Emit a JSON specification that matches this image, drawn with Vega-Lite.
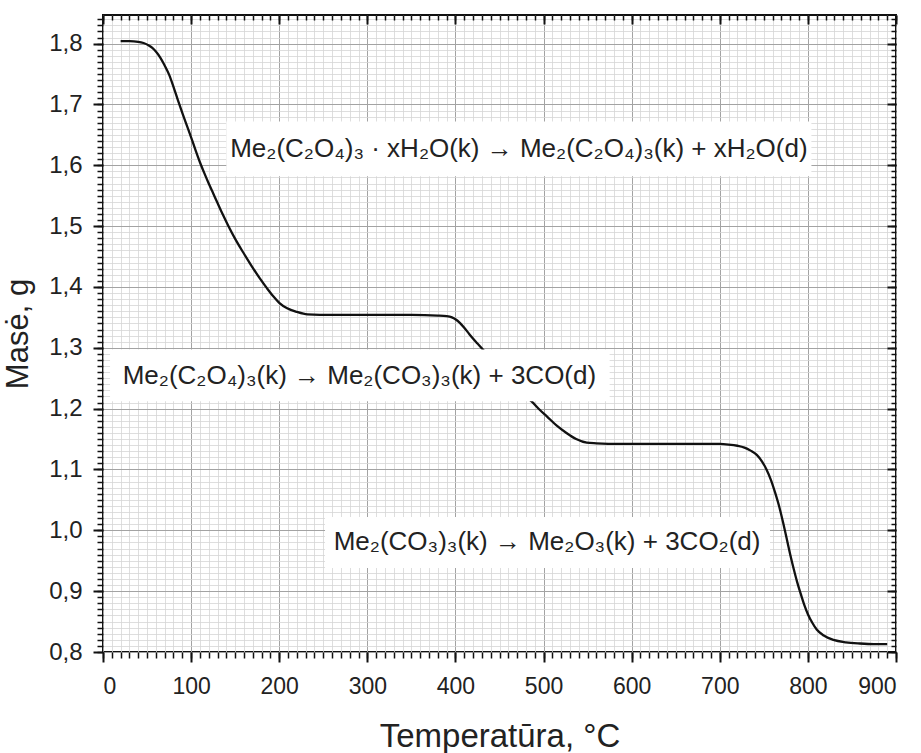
{
  "$schema": "https://vega.github.io/schema/vega-lite/v6.json",
  "width": 793,
  "height": 637,
  "autosize": {"type": "none"},
  "padding": {"left": 103, "top": 15, "right": 25, "bottom": 101},
  "background": "white",
  "config": {"view": {"stroke": "#111", "strokeWidth": 2}, "font": "Liberation Sans"},
  "datasets": {
    "curve": [
      {"t": 20, "m": 1.804}, {"t": 30, "m": 1.804}, {"t": 40, "m": 1.803}, {"t": 46, "m": 1.801},
      {"t": 52, "m": 1.797}, {"t": 56, "m": 1.793}, {"t": 60, "m": 1.787}, {"t": 65, "m": 1.777},
      {"t": 70, "m": 1.764}, {"t": 75, "m": 1.749}, {"t": 80, "m": 1.729}, {"t": 85, "m": 1.707},
      {"t": 90, "m": 1.686}, {"t": 95, "m": 1.666}, {"t": 100, "m": 1.646}, {"t": 105, "m": 1.625},
      {"t": 110, "m": 1.605}, {"t": 115, "m": 1.587}, {"t": 120, "m": 1.570}, {"t": 125, "m": 1.554},
      {"t": 130, "m": 1.538}, {"t": 136, "m": 1.519}, {"t": 142, "m": 1.501}, {"t": 150, "m": 1.479},
      {"t": 159, "m": 1.457}, {"t": 168, "m": 1.436}, {"t": 178, "m": 1.414}, {"t": 186, "m": 1.398},
      {"t": 193, "m": 1.385}, {"t": 200, "m": 1.374}, {"t": 209, "m": 1.365}, {"t": 220, "m": 1.359},
      {"t": 232, "m": 1.355}, {"t": 260, "m": 1.354}, {"t": 300, "m": 1.354}, {"t": 350, "m": 1.354},
      {"t": 380, "m": 1.353}, {"t": 390, "m": 1.352}, {"t": 396, "m": 1.350}, {"t": 400, "m": 1.347},
      {"t": 405, "m": 1.341}, {"t": 410, "m": 1.333}, {"t": 416, "m": 1.322}, {"t": 425, "m": 1.307},
      {"t": 435, "m": 1.291}, {"t": 445, "m": 1.275}, {"t": 455, "m": 1.258}, {"t": 465, "m": 1.242},
      {"t": 475, "m": 1.226}, {"t": 487, "m": 1.211}, {"t": 495, "m": 1.199}, {"t": 504, "m": 1.187},
      {"t": 515, "m": 1.172}, {"t": 526, "m": 1.160}, {"t": 537, "m": 1.150}, {"t": 549, "m": 1.144},
      {"t": 560, "m": 1.143}, {"t": 587, "m": 1.142}, {"t": 620, "m": 1.142}, {"t": 660, "m": 1.142},
      {"t": 700, "m": 1.142}, {"t": 710, "m": 1.141}, {"t": 720, "m": 1.139}, {"t": 728, "m": 1.136},
      {"t": 735, "m": 1.131}, {"t": 742, "m": 1.124}, {"t": 748, "m": 1.113}, {"t": 753, "m": 1.100},
      {"t": 758, "m": 1.083}, {"t": 763, "m": 1.061}, {"t": 768, "m": 1.036}, {"t": 772, "m": 1.012},
      {"t": 776, "m": 0.986}, {"t": 780, "m": 0.960}, {"t": 784, "m": 0.936}, {"t": 788, "m": 0.914},
      {"t": 792, "m": 0.895}, {"t": 796, "m": 0.877}, {"t": 800, "m": 0.862}, {"t": 805, "m": 0.848},
      {"t": 810, "m": 0.837}, {"t": 818, "m": 0.827}, {"t": 829, "m": 0.820}, {"t": 843, "m": 0.816},
      {"t": 859, "m": 0.814}, {"t": 875, "m": 0.813}, {"t": 890, "m": 0.813}
    ],
    "notes": [
      {"x1": 140, "x2": 804, "y1": 1.672, "y2": 1.582, "xc": 472, "yc": 1.626, "label": "Me₂(C₂O₄)₃ · xH₂O(k) → Me₂(C₂O₄)₃(k) + xH₂O(d)"},
      {"x1": 8, "x2": 575, "y1": 1.297, "y2": 1.212, "xc": 291, "yc": 1.254, "label": "Me₂(C₂O₄)₃(k) → Me₂(CO₃)₃(k) + 3CO(d)"},
      {"x1": 252, "x2": 757, "y1": 1.022, "y2": 0.938, "xc": 504, "yc": 0.981, "label": "Me₂(CO₃)₃(k) → Me₂O₃(k) + 3CO₂(d)"}
    ]
  },
  "resolve": {"axis": {"x": "independent", "y": "independent"}},
  "layer": [
    {
      "data": {"name": "curve"},
      "mark": {"type": "line", "opacity": 0},
      "encoding": {
        "x": {"field": "t", "type": "quantitative",
          "scale": {"domain": [0, 900], "nice": false, "zero": false},
          "axis": {"orient": "bottom", "title": null, "labels": false, "domain": false, "ticks": false,
            "values": [0,10,20,30,40,50,60,70,80,90,100,110,120,130,140,150,160,170,180,190,200,210,220,230,240,250,260,270,280,290,300,310,320,330,340,350,360,370,380,390,400,410,420,430,440,450,460,470,480,490,500,510,520,530,540,550,560,570,580,590,600,610,620,630,640,650,660,670,680,690,700,710,720,730,740,750,760,770,780,790,800,810,820,830,840,850,860,870,880,890,900],
            "grid": true, "gridColor": "#d6d6d6", "gridWidth": 0.8}},
        "y": {"field": "m", "type": "quantitative",
          "scale": {"domain": [0.8, 1.847], "nice": false, "zero": false},
          "axis": {"orient": "left", "title": null, "labels": false, "domain": false, "ticks": false,
            "values": [0.8,0.81,0.82,0.83,0.84,0.85,0.86,0.87,0.88,0.89,0.9,0.91,0.92,0.93,0.94,0.95,0.96,0.97,0.98,0.99,1.0,1.01,1.02,1.03,1.04,1.05,1.06,1.07,1.08,1.09,1.1,1.11,1.12,1.13,1.14,1.15,1.16,1.17,1.18,1.19,1.2,1.21,1.22,1.23,1.24,1.25,1.26,1.27,1.28,1.29,1.3,1.31,1.32,1.33,1.34,1.35,1.36,1.37,1.38,1.39,1.4,1.41,1.42,1.43,1.44,1.45,1.46,1.47,1.48,1.49,1.5,1.51,1.52,1.53,1.54,1.55,1.56,1.57,1.58,1.59,1.6,1.61,1.62,1.63,1.64,1.65,1.66,1.67,1.68,1.69,1.7,1.71,1.72,1.73,1.74,1.75,1.76,1.77,1.78,1.79,1.8,1.81,1.82,1.83,1.84],
            "grid": true, "gridColor": "#d6d6d6", "gridWidth": 0.8}}
      }
    },
    {
      "data": {"name": "curve"},
      "mark": {"type": "line", "opacity": 0},
      "encoding": {
        "x": {"field": "t", "type": "quantitative",
          "axis": {"orient": "bottom", "title": null, "labels": false, "domain": false, "ticks": true, "grid": false,
            "values": [0,10,20,30,40,50,60,70,80,90,100,110,120,130,140,150,160,170,180,190,200,210,220,230,240,250,260,270,280,290,300,310,320,330,340,350,360,370,380,390,400,410,420,430,440,450,460,470,480,490,500,510,520,530,540,550,560,570,580,590,600,610,620,630,640,650,660,670,680,690,700,710,720,730,740,750,760,770,780,790,800,810,820,830,840,850,860,870,880,890,900],
            "tickSize": 6, "tickColor": "#111", "tickWidth": 1.5}},
        "y": {"field": "m", "type": "quantitative",
          "axis": {"orient": "left", "title": null, "labels": false, "domain": false, "ticks": true, "grid": false,
            "values": [0.8,0.81,0.82,0.83,0.84,0.85,0.86,0.87,0.88,0.89,0.9,0.91,0.92,0.93,0.94,0.95,0.96,0.97,0.98,0.99,1.0,1.01,1.02,1.03,1.04,1.05,1.06,1.07,1.08,1.09,1.1,1.11,1.12,1.13,1.14,1.15,1.16,1.17,1.18,1.19,1.2,1.21,1.22,1.23,1.24,1.25,1.26,1.27,1.28,1.29,1.3,1.31,1.32,1.33,1.34,1.35,1.36,1.37,1.38,1.39,1.4,1.41,1.42,1.43,1.44,1.45,1.46,1.47,1.48,1.49,1.5,1.51,1.52,1.53,1.54,1.55,1.56,1.57,1.58,1.59,1.6,1.61,1.62,1.63,1.64,1.65,1.66,1.67,1.68,1.69,1.7,1.71,1.72,1.73,1.74,1.75,1.76,1.77,1.78,1.79,1.8,1.81,1.82,1.83,1.84],
            "tickSize": 6, "tickColor": "#111", "tickWidth": 1.5}}
      }
    },
    {
      "data": {"name": "curve"},
      "mark": {"type": "line", "opacity": 0},
      "encoding": {
        "x": {"field": "t", "type": "quantitative",
          "axis": {"orient": "top", "title": null, "labels": false, "domain": false, "ticks": true, "grid": false, "offset": -5,
            "values": [0,10,20,30,40,50,60,70,80,90,100,110,120,130,140,150,160,170,180,190,200,210,220,230,240,250,260,270,280,290,300,310,320,330,340,350,360,370,380,390,400,410,420,430,440,450,460,470,480,490,500,510,520,530,540,550,560,570,580,590,600,610,620,630,640,650,660,670,680,690,700,710,720,730,740,750,760,770,780,790,800,810,820,830,840,850,860,870,880,890,900],
            "tickSize": 5, "tickColor": "#111", "tickWidth": 1.5}},
        "y": {"field": "m", "type": "quantitative",
          "axis": {"orient": "right", "title": null, "labels": false, "domain": false, "ticks": true, "grid": false, "offset": -5,
            "values": [0.8,0.81,0.82,0.83,0.84,0.85,0.86,0.87,0.88,0.89,0.9,0.91,0.92,0.93,0.94,0.95,0.96,0.97,0.98,0.99,1.0,1.01,1.02,1.03,1.04,1.05,1.06,1.07,1.08,1.09,1.1,1.11,1.12,1.13,1.14,1.15,1.16,1.17,1.18,1.19,1.2,1.21,1.22,1.23,1.24,1.25,1.26,1.27,1.28,1.29,1.3,1.31,1.32,1.33,1.34,1.35,1.36,1.37,1.38,1.39,1.4,1.41,1.42,1.43,1.44,1.45,1.46,1.47,1.48,1.49,1.5,1.51,1.52,1.53,1.54,1.55,1.56,1.57,1.58,1.59,1.6,1.61,1.62,1.63,1.64,1.65,1.66,1.67,1.68,1.69,1.7,1.71,1.72,1.73,1.74,1.75,1.76,1.77,1.78,1.79,1.8,1.81,1.82,1.83,1.84],
            "tickSize": 5, "tickColor": "#111", "tickWidth": 1.5}}
      }
    },
    {
      "data": {"name": "curve"},
      "mark": {"type": "line", "opacity": 0},
      "encoding": {
        "x": {"field": "t", "type": "quantitative",
          "axis": {"orient": "top", "title": null, "labels": false, "domain": false, "ticks": true, "grid": false, "offset": -9,
            "values": [0,100,200,300,400,500,600,700,800,900],
            "tickSize": 9, "tickColor": "#111", "tickWidth": 2}},
        "y": {"field": "m", "type": "quantitative",
          "axis": {"orient": "right", "title": null, "labels": false, "domain": false, "ticks": true, "grid": false, "offset": -9,
            "values": [0.8,0.9,1.0,1.1,1.2,1.3,1.4,1.5,1.6,1.7,1.8],
            "tickSize": 9, "tickColor": "#111", "tickWidth": 2}}
      }
    },
    {
      "data": {"name": "curve"},
      "mark": {"type": "line", "opacity": 0},
      "encoding": {
        "x": {"field": "t", "type": "quantitative",
          "axis": {"orient": "bottom", "title": "Temperatūra, °C", "ticks": true, "domain": false,
            "values": [0,100,200,300,400,500,600,700,800,900],
            "tickSize": 10, "tickColor": "#111", "tickWidth": 2,
            "grid": true, "gridColor": "#a3a3a3", "gridWidth": 1,
            "labelFont": "Liberation Sans", "labelFontSize": 23, "labelColor": "#222", "labelPadding": 13,
            "titleFont": "Liberation Sans", "titleFontSize": 33, "titleFontWeight": "normal", "titleColor": "#222",
            "titleY": 94, "titleBaseline": "alphabetic"}},
        "y": {"field": "m", "type": "quantitative",
          "axis": {"orient": "left", "title": "Masė, g", "ticks": true, "domain": false,
            "values": [0.8,0.9,1.0,1.1,1.2,1.3,1.4,1.5,1.6,1.7,1.8],
            "labelExpr": "replace(format(datum.value, '.1f'), '.', ',')",
            "tickSize": 10, "tickColor": "#111", "tickWidth": 2,
            "grid": true, "gridColor": "#a3a3a3", "gridWidth": 1,
            "labelFont": "Liberation Sans", "labelFontSize": 24, "labelColor": "#222", "labelPadding": 11,
            "titleFont": "Liberation Sans", "titleFontSize": 31, "titleFontWeight": "normal", "titleColor": "#222",
            "titleX": -76, "titleBaseline": "alphabetic"}}
      }
    },
    {
      "data": {"name": "curve"},
      "mark": {"type": "line", "color": "#111", "strokeWidth": 2.3, "interpolate": "monotone"},
      "encoding": {
        "x": {"field": "t", "type": "quantitative", "axis": null},
        "y": {"field": "m", "type": "quantitative", "axis": null}
      }
    },
    {
      "data": {"name": "notes"},
      "mark": {"type": "rect", "fill": "white"},
      "encoding": {
        "x": {"field": "x1", "type": "quantitative", "axis": null},
        "x2": {"field": "x2"},
        "y": {"field": "y1", "type": "quantitative", "axis": null},
        "y2": {"field": "y2"}
      }
    },
    {
      "data": {"name": "notes"},
      "mark": {"type": "text", "font": "Liberation Sans", "fontSize": 26, "color": "#222", "align": "center", "baseline": "middle"},
      "encoding": {
        "x": {"field": "xc", "type": "quantitative", "axis": null},
        "y": {"field": "yc", "type": "quantitative", "axis": null},
        "text": {"field": "label"}
      }
    }
  ]
}
